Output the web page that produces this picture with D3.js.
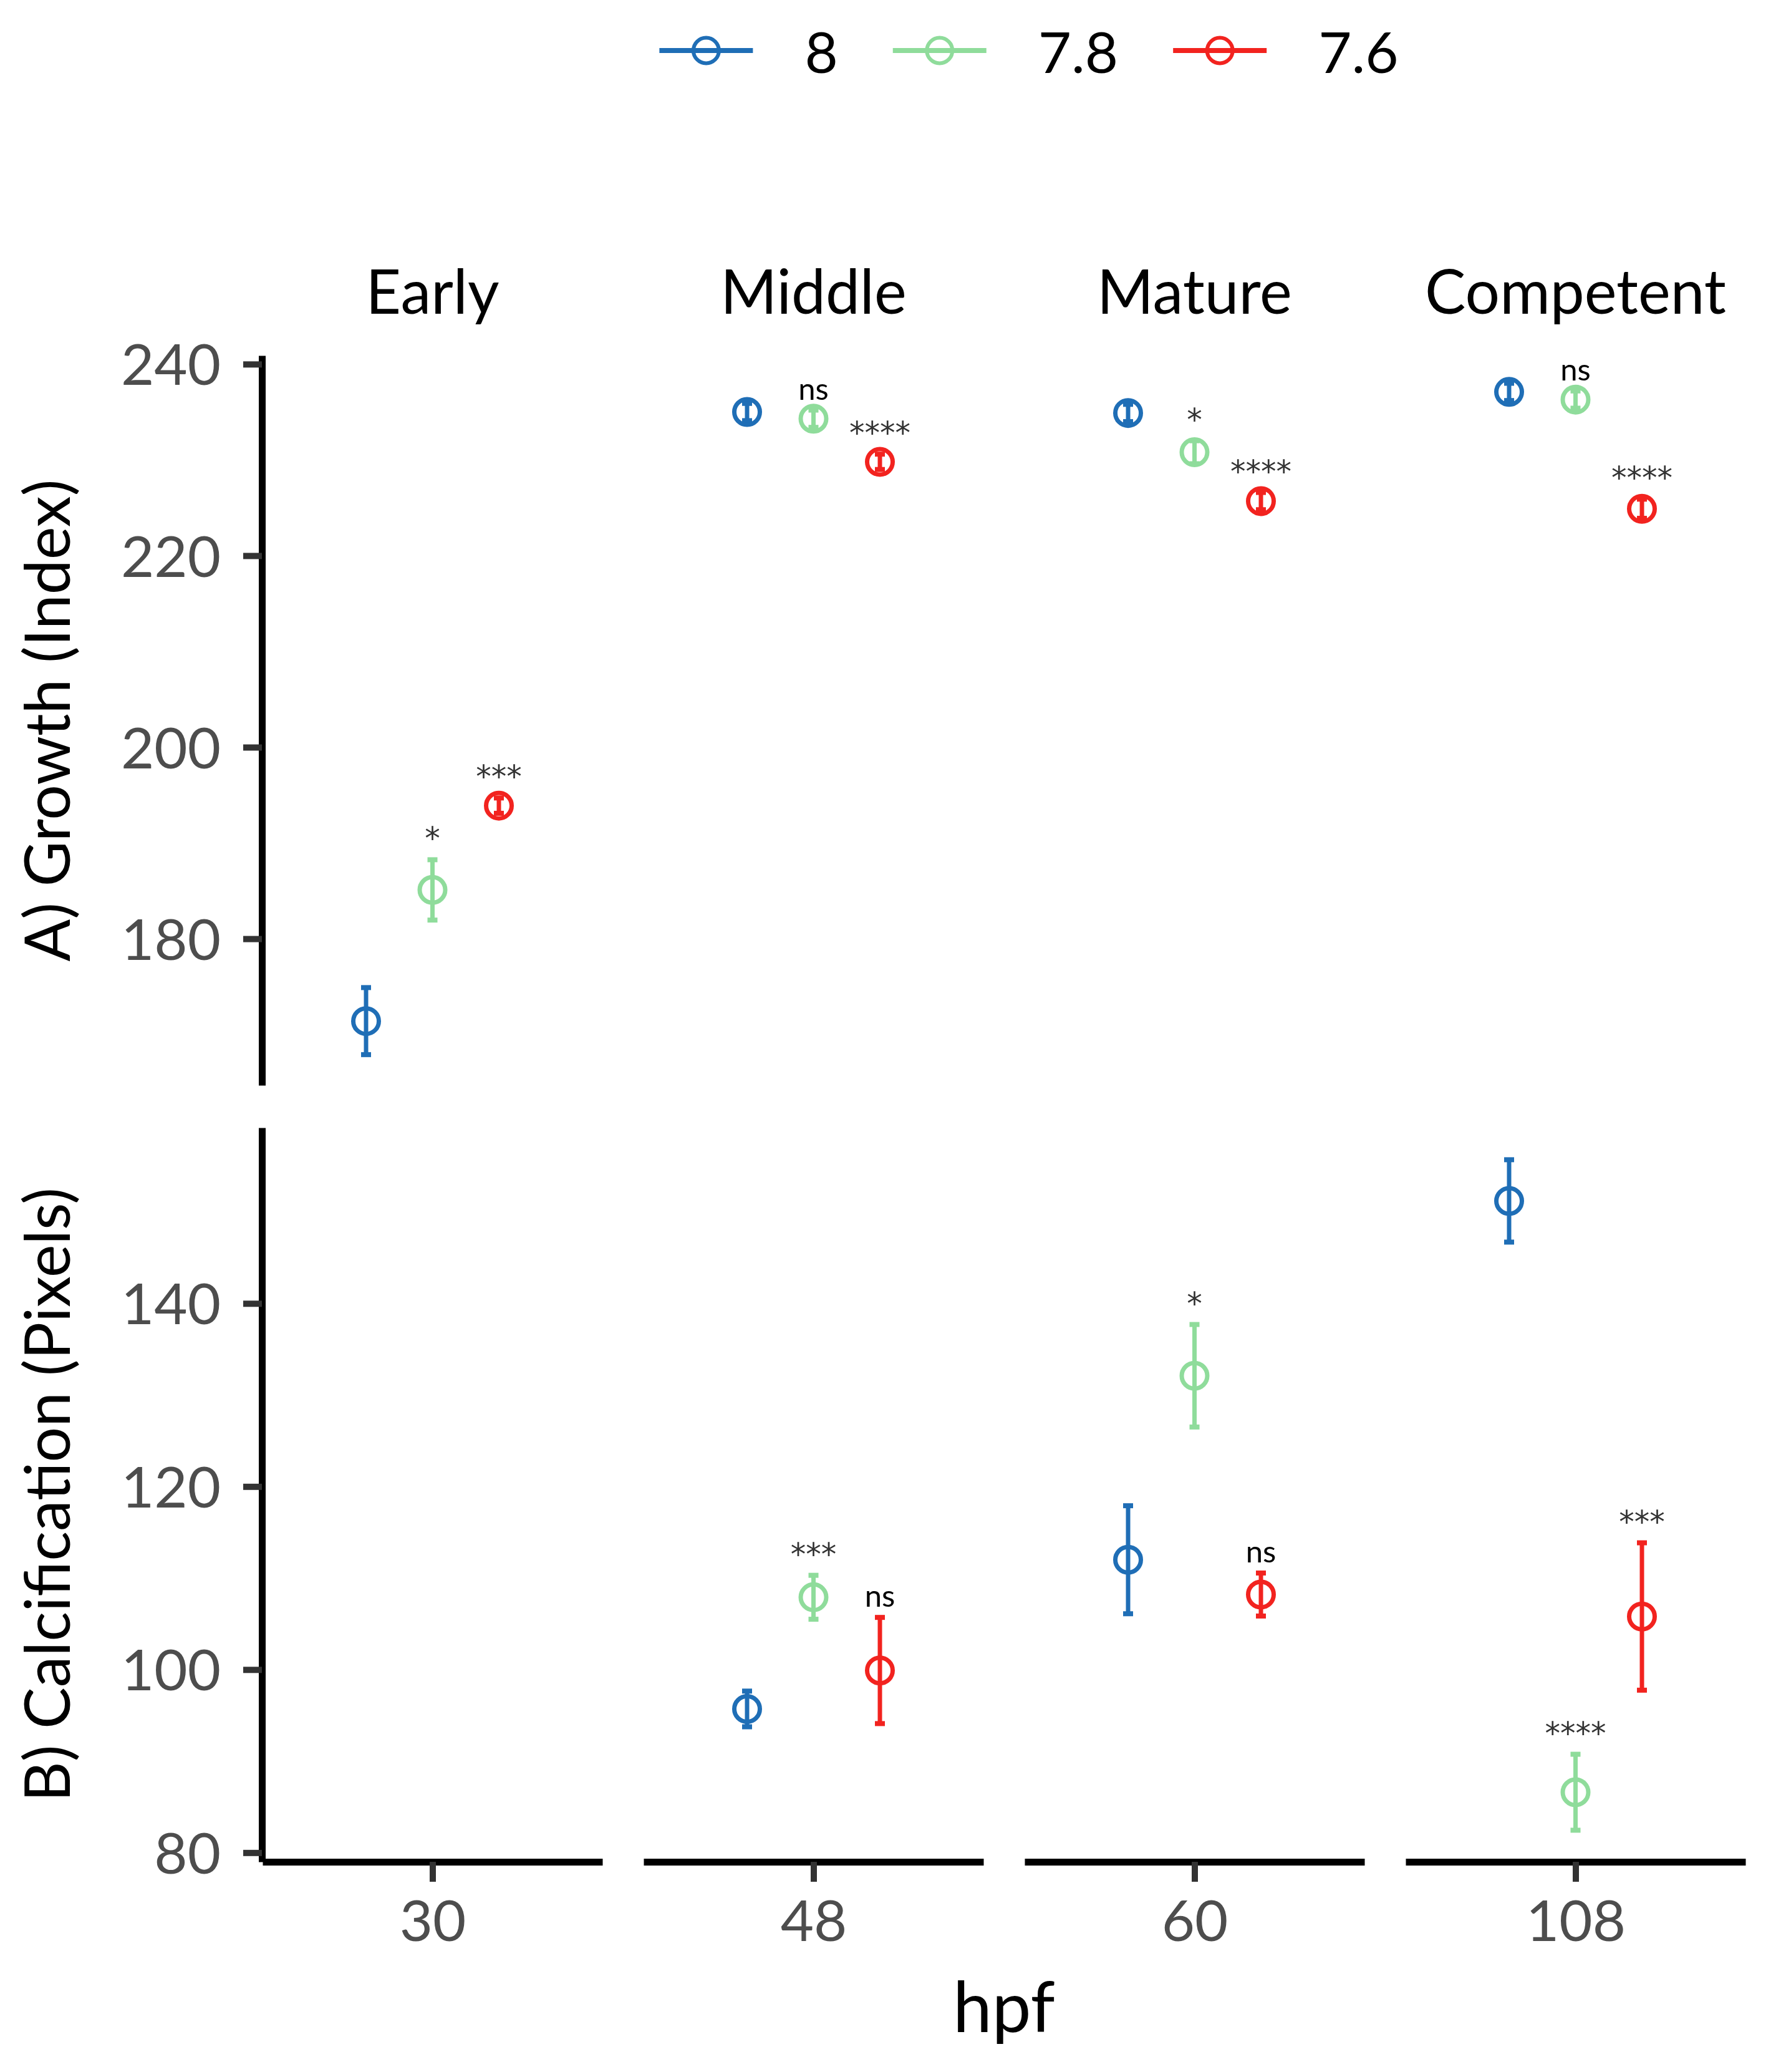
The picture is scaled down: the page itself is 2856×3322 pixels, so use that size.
<!DOCTYPE html>
<html>
<head>
<meta charset="utf-8">
<script src="https://cdn.jsdelivr.net/npm/d3@7"></script>
<style>
  body { margin: 0; background: #fff; }
  text { font-family: Lato, "Open Sans", sans-serif; }
</style>
</head>
<body>
<div id="chart"></div>
<script>
// facets and groups
const stages = ["Early", "Middle", "Mature", "Competent"];
const hpf = ["30", "48", "60", "108"];
const groups = ["8", "7.8", "7.6"];
const colors = ["#1f6eb6", "#8fdc9b", "#f2231f"];

// A) Growth (Index): mean and error per pH group, one value per stage
const growth8 = [171.4, 235.0, 234.9, 237.1];
const growth78 = [185.1, 234.3, 230.8, 236.3];
const growth76 = [193.9, 229.8, 225.7, 224.9];
const growthErr8 = [3.5, 0.9, 0.9, 0.9];
const growthErr78 = [3.15, 0.9, 1.2, 0.9];
const growthErr76 = [0.8, 0.8, 0.9, 1.0];
const growthSig78 = ["*", "ns", "*", "ns"];
const growthSig76 = ["***", "****", "****", "****"];

// B) Calcification (Pixels): no data for the Early stage
const calc8 = [null, 95.7, 112.0, 151.2];
const calc78 = [null, 107.9, 132.1, 86.6];
const calc76 = [null, 99.9, 108.2, 105.8];
const calcErr8 = [null, 1.95, 5.9, 4.5];
const calcErr78 = [null, 2.4, 5.6, 4.15];
const calcErr76 = [null, 5.8, 2.35, 8.05];
const calcSig78 = [null, "***", "*", "****"];
const calcSig76 = [null, "ns", "ns", "***"];

const growthTicks = [180, 200, 220, 240];
const calcTicks = [80, 100, 120, 140];

const width = 2856;
const height = 3322;

const svg = d3
  .select("#chart")
  .append("svg")
  .attr("width", width)
  .attr("height", height)
  .style("background", "#fff");

// facet columns
const fx = d3
  .scaleBand()
  .domain(stages)
  .range([421, 2799])
  .paddingInner(0.108)
  .paddingOuter(0);

// dodge inside a facet
const dodge = d3.scalePoint().domain(groups).range([-106.5, 106.5]);
const color = d3.scaleOrdinal().domain(groups).range(colors);

const rows = [
  {
    title: "A) Growth (Index)",
    y: d3.scaleLinear().domain([164.7, 240.9]).range([1740, 570]),
    ticks: growthTicks,
    means: [growth8, growth78, growth76],
    errs: [growthErr8, growthErr78, growthErr76],
    sigs: [null, growthSig78, growthSig76]
  },
  {
    title: "B) Calcification (Pixels)",
    y: d3.scaleLinear().domain([79.0, 159.2]).range([2985, 1808]),
    ticks: calcTicks,
    means: [calc8, calc78, calc76],
    errs: [calcErr8, calcErr78, calcErr76],
    sigs: [null, calcSig78, calcSig76]
  }
];

const axisX = 420;

rows.forEach(row => {
  const y = row.y;

  // y axis on the left column only
  const yAxis = svg
    .append("g")
    .attr("transform", `translate(${axisX},0)`)
    .call(
      d3.axisLeft(y).tickValues(row.ticks).tickSize(30).tickSizeOuter(0).tickPadding(36)
    );
  yAxis.select(".domain").attr("stroke", "#000").attr("stroke-width", 11);
  yAxis.selectAll(".tick line").attr("stroke", "#333").attr("stroke-width", 10);
  yAxis
    .selectAll(".tick text")
    .attr("fill", "#4d4d4d")
    .style("font-size", "92px")
    .attr("dy", "0.36em");

  // axis title
  const [r0, r1] = y.range();
  svg
    .append("text")
    .attr("transform", `translate(112,${(r0 + r1) / 2}) rotate(-90)`)
    .attr("text-anchor", "middle")
    .attr("fill", "#000")
    .style("font-size", "100px")
    .text(row.title);

  // flatten to one record per point
  const pts = [];
  stages.forEach((s, i) => {
    groups.forEach((g, k) => {
      const m = row.means[k][i];
      if (m == null) return;
      pts.push({
        stage: s,
        group: g,
        mean: m,
        err: row.errs[k][i],
        sig: row.sigs[k] ? row.sigs[k][i] : null
      });
    });
  });

  const cx = d => fx(d.stage) + fx.bandwidth() / 2 + dodge(d.group);

  const g = svg.append("g");

  // error bars
  g.selectAll("line.bar")
    .data(pts)
    .enter()
    .append("line")
    .attr("class", "bar")
    .attr("x1", cx)
    .attr("x2", cx)
    .attr("y1", d => y(d.mean - d.err))
    .attr("y2", d => y(d.mean + d.err))
    .attr("stroke", d => color(d.group))
    .attr("stroke-width", 7);

  ["top", "bottom"].forEach(end => {
    g.selectAll(`line.cap-${end}`)
      .data(pts)
      .enter()
      .append("line")
      .attr("x1", d => cx(d) - 8)
      .attr("x2", d => cx(d) + 8)
      .attr("y1", d => y(end === "top" ? d.mean + d.err : d.mean - d.err))
      .attr("y2", d => y(end === "top" ? d.mean + d.err : d.mean - d.err))
      .attr("stroke", d => color(d.group))
      .attr("stroke-width", 8);
  });

  // open circles for the means
  g.selectAll("circle")
    .data(pts)
    .enter()
    .append("circle")
    .attr("cx", cx)
    .attr("cy", d => y(d.mean))
    .attr("r", 20.5)
    .attr("fill", "none")
    .attr("stroke", d => color(d.group))
    .attr("stroke-width", 7);

  // significance labels above the error bars
  g.selectAll("text.sig")
    .data(pts.filter(d => d.sig))
    .enter()
    .append("text")
    .attr("class", "sig")
    .attr("x", cx)
    .attr("y", d => y(d.mean + d.err) - 17)
    .attr("text-anchor", "middle")
    .attr("fill", d => (d.sig === "ns" ? "#000" : "#333"))
    .style("font-family", d => (d.sig === "ns" ? "Lato" : "DejaVu Sans"))
    .style("font-size", "49px")
    .text(d => d.sig);
});

// facet strip labels on top
svg
  .selectAll("text.strip")
  .data(stages)
  .enter()
  .append("text")
  .attr("class", "strip")
  .attr("x", d => fx(d) + fx.bandwidth() / 2)
  .attr("y", 503)
  .attr("text-anchor", "middle")
  .attr("fill", "#000")
  .style("font-size", "98px")
  .text(d => d);

// x axis, one short axis per facet
const yBottom = rows[1].y.range()[0];
stages.forEach((s, i) => {
  const x0 = fx(s);
  const px = d3
    .scalePoint()
    .domain([hpf[i]])
    .range([x0, x0 + fx.bandwidth()])
    .padding(0.5);
  const ax = svg
    .append("g")
    .attr("transform", `translate(0,${yBottom})`)
    .call(d3.axisBottom(px).tickSize(32).tickSizeOuter(0).tickPadding(30));
  ax.select(".domain").attr("stroke", "#000").attr("stroke-width", 11);
  ax.selectAll(".tick line").attr("stroke", "#333").attr("stroke-width", 10);
  ax.selectAll(".tick text")
    .attr("fill", "#4d4d4d")
    .style("font-size", "92px")
    .attr("dy", "0.71em");
});

svg
  .append("text")
  .attr("x", (fx.range()[0] + fx.range()[1]) / 2)
  .attr("y", 3258)
  .attr("text-anchor", "middle")
  .attr("fill", "#000")
  .style("font-size", "112px")
  .text("hpf");

// legend across the top
const legend = svg.append("g").attr("transform", "translate(0,81)");
const keyW = 150;
const keyGap = 83;
const itemGap = 88;
const items = legend
  .selectAll("g")
  .data(groups)
  .enter()
  .append("g");
items
  .append("text")
  .attr("x", keyW + keyGap)
  .attr("y", 36)
  .attr("fill", "#000")
  .style("font-size", "92px")
  .text(d => d);
let cursor = 0;
items.each(function () {
  const w = d3.select(this).select("text").node().getComputedTextLength();
  d3.select(this).attr("data-x", cursor);
  cursor += keyW + keyGap + w + itemGap;
});
const total = cursor - itemGap;
const start = 1650 - total / 2;
items.attr("transform", function () {
  return `translate(${start + Number(d3.select(this).attr("data-x"))},0)`;
});
items
  .append("line")
  .attr("x1", 0)
  .attr("x2", keyW)
  .attr("stroke", d => color(d))
  .attr("stroke-width", 8);
items
  .append("circle")
  .attr("cx", keyW / 2)
  .attr("r", 20.5)
  .attr("fill", "none")
  .attr("stroke", d => color(d))
  .attr("stroke-width", 6);
</script>
</body>
</html>
